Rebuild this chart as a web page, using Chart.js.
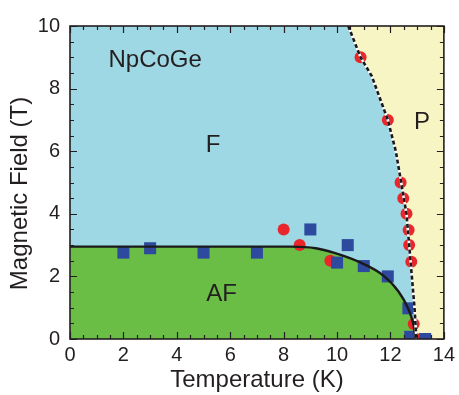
<!DOCTYPE html>
<html>
<head>
<meta charset="utf-8">
<script src="https://cdn.jsdelivr.net/npm/chart.js@4.4.1/dist/chart.umd.min.js"></script>
<style>
  html, body { margin: 0; padding: 0; background: #fff; }
  #wrap { width: 459px; height: 395px; }
</style>
</head>
<body>
<div id="wrap"><canvas id="phase"></canvas></div>
<script>
// === data (T in K, H in T) ===
const redT = [10.88, 11.9, 12.38, 12.48, 12.6, 12.68, 12.7, 12.78, 12.87, 12.97, 8.0, 8.6, 9.75];
const redH = [9.0, 7.0, 5.0, 4.5, 4.0, 3.48, 3.0, 2.47, 0.48, 0.0, 3.5, 3.0, 2.5];

const blueT = [2, 3, 5, 7, 9, 10.4, 10.0, 11.0, 11.9, 12.67, 12.74, 13.3];
const blueH = [2.76, 2.9, 2.76, 2.76, 3.5, 3.0, 2.44, 2.33, 2.0, 0.98, 0.07, 0.0];

// AF boundary (solid line)
const afT = [0, 8.3, 9.2, 9.9, 10.8, 11.7, 12.3, 12.65, 12.85, 12.95];
const afH = [2.95, 2.95, 2.9, 2.75, 2.47, 2.05, 1.52, 1.0, 0.5, 0.0];

// F / P boundary (dashed line)
const pT = [10.42, 10.88, 11.3, 11.6, 11.9, 12.2, 12.4, 12.6, 12.7, 12.8, 12.9, 12.97];
const pH = [10, 9, 8.4, 7.7, 7.0, 6.0, 5.0, 4.0, 3.0, 2.0, 1.0, 0.0];

const xTicks = [0, 2, 4, 6, 8, 10, 12, 14];
const yTicks = [0, 2, 4, 6, 8, 10];

// region labels
const labelText = ['NpCoGe', 'F', 'P', 'AF'];
const labelT = [3.19, 5.36, 13.18, 5.68];
const labelH = [8.95, 6.26, 7.0, 1.5];

const yTitle = 'Magnetic Field (T)';

const FONT = "'Liberation Sans', Arial, sans-serif";
const INK = '#231f20';

const pts = (xs, ys) => xs.map((x, i) => ({ x: x, y: ys[i] }));

// fondo celeste del area del grafico
const bgPlugin = {
    id: 'bg',
    beforeDatasetsDraw(chart) {
        const a = chart.chartArea;
        const ctx = chart.ctx;
        ctx.save();
        ctx.fillStyle = '#9dd8e4';
        ctx.fillRect(a.left, a.top, a.right - a.left, a.bottom - a.top);
        ctx.restore();
    }
};

// marco con ticks hacia adentro en los 4 lados + etiquetas de region
const framePlugin = {
    id: 'frame',
    afterDatasetsDraw(chart) {
        const a = chart.chartArea;
        const ctx = chart.ctx;
        const xs = chart.scales.x, ys = chart.scales.y;
        ctx.save();

        ctx.fillStyle = INK;
        ctx.font = '24px ' + FONT;
        ctx.textAlign = 'center';
        ctx.textBaseline = 'alphabetic';
        labelText.forEach((t, i) => {
            ctx.fillText(t, xs.getPixelForValue(labelT[i]), ys.getPixelForValue(labelH[i]) + 8.6);
        });

        // titulo del eje Y (un poco mas abajo que el centro, como en el original)
        ctx.save();
        ctx.translate(27, ys.getPixelForValue(4.65));
        ctx.rotate(-Math.PI / 2);
        ctx.fillText(yTitle, 0, 0);
        ctx.restore();

        ctx.strokeStyle = INK;
        ctx.lineWidth = 1.2;
        ctx.beginPath();
        for (let v = 0; v <= 14; v += 0.5) {
            const px = Math.round(xs.getPixelForValue(v)) + 0.5;
            const len = v % 2 === 0 ? 7 : 4;
            ctx.moveTo(px, a.bottom); ctx.lineTo(px, a.bottom - len);
            ctx.moveTo(px, a.top); ctx.lineTo(px, a.top + len);
        }
        for (let v = 0; v <= 10; v += 0.5) {
            const py = Math.round(ys.getPixelForValue(v)) + 0.5;
            const len = v % 2 === 0 ? 7 : 4;
            ctx.moveTo(a.left, py); ctx.lineTo(a.left + len, py);
            ctx.moveTo(a.right, py); ctx.lineTo(a.right - len, py);
        }
        ctx.stroke();

        ctx.lineWidth = 1.6;
        ctx.strokeRect(a.left, a.top, a.right - a.left, a.bottom - a.top);
        ctx.restore();
    }
};

new Chart(document.getElementById('phase'), {
    type: 'scatter',
    data: {
        datasets: [
            // lineas (arriba de todo)
            { data: pts(pT, pH), showLine: true, borderColor: '#1a1a1a', borderWidth: 2.6,
              borderDash: [4, 2.5], pointRadius: 0, fill: false, tension: 0, order: 0 },
            { data: pts(pT, pH), showLine: true, borderColor: '#ffffff', borderWidth: 2.6,
              pointRadius: 0, fill: false, tension: 0, order: 1 },
            { data: pts(afT, afH), showLine: true, borderColor: '#1a1a1a', borderWidth: 2.4,
              pointRadius: 0, fill: false, cubicInterpolationMode: 'monotone', order: 2 },
            // puntos
            { data: pts(blueT, blueH), pointStyle: 'rect', pointRadius: 8.5, pointBorderWidth: 0,
              backgroundColor: '#2e4a9e', borderColor: '#2e4a9e', order: 3 },
            { data: pts(redT, redH), pointStyle: 'circle', pointRadius: 6, pointBorderWidth: 0,
              backgroundColor: '#e8262b', borderColor: '#e8262b', order: 4 },
            // regiones
            { data: pts(afT, afH), showLine: true, borderWidth: 0, pointRadius: 0,
              cubicInterpolationMode: 'monotone', fill: 'start', backgroundColor: '#6abd45', order: 10 },
            { data: pts(pT.concat([14]), pH.concat([0])), showLine: true, borderWidth: 0, pointRadius: 0,
              tension: 0, fill: 'end', backgroundColor: '#f8f5c4', order: 11 }
        ]
    },
    options: {
        responsive: true,
        maintainAspectRatio: false,
        animation: false,
        events: [],
        layout: { padding: { top: 26, right: 13, left: 0, bottom: 0 } },
        plugins: { legend: { display: false }, tooltip: { enabled: false } },
        scales: {
            x: {
                type: 'linear', min: 0, max: 14,
                grid: { display: false, drawTicks: false },
                border: { display: false },
                afterBuildTicks: s => { s.ticks = xTicks.map(v => ({ value: v })); },
                ticks: { color: INK, font: { family: FONT, size: 20 }, padding: 4, maxRotation: 0 },
                title: { display: true, text: 'Temperature (K)', color: INK,
                         font: { family: FONT, size: 24 }, padding: { top: 0, bottom: 0 } },
                afterFit: s => { s.height = 56; }
            },
            y: {
                type: 'linear', min: 0, max: 10,
                grid: { display: false, drawTicks: false },
                border: { display: false },
                afterBuildTicks: s => { s.ticks = yTicks.map(v => ({ value: v })); },
                ticks: { color: INK, font: { family: FONT, size: 20 }, padding: 10 },
                title: { display: false },
                afterFit: s => { s.width = 70; }
            }
        }
    },
    plugins: [bgPlugin, framePlugin]
});
</script>
</body>
</html>
